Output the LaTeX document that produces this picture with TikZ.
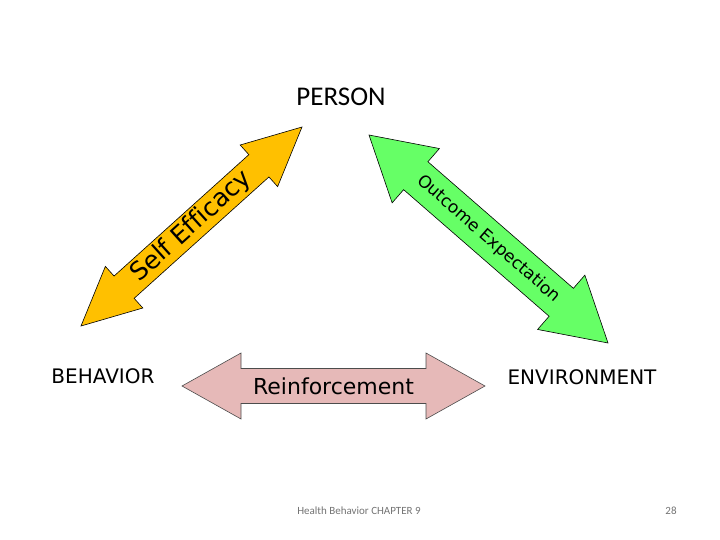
\documentclass[tikz,border=0pt]{standalone}
\usepackage{fontspec}
\setmainfont{DejaVu Sans}
\newfontfamily\slidefont{Carlito}
\usetikzlibrary{calc}
\definecolor{effyellow}{HTML}{FFC000}
\definecolor{outgreen}{HTML}{66FF66}
\definecolor{reinpink}{HTML}{E6B9B8}

% [#1 options] #2,#3 tips, #4 head length, #5 half head width, #6 half shaft width
\newcommand{\twowayarrow}[6][]{%
  \draw[#1] (#2)
    -- ($(#2)!#4!(#3)!#5!90:(#3)$)
    -- ($(#2)!#4!(#3)!#6!90:(#3)$)
    -- ($(#3)!#4!(#2)!#6!-90:(#2)$)
    -- ($(#3)!#4!(#2)!#5!-90:(#2)$)
    -- (#3)
    -- ($(#3)!#4!(#2)!#5!90:(#2)$)
    -- ($(#3)!#4!(#2)!#6!90:(#2)$)
    -- ($(#2)!#4!(#3)!#6!-90:(#3)$)
    -- ($(#2)!#4!(#3)!#5!-90:(#3)$)
    -- cycle;}

\begin{document}
\begin{tikzpicture}[x=1pt, y=-1pt]
\useasboundingbox (0,0) rectangle (720,540);
% corners of the triangle
\node (person) at (341,97) {\slidefont\fontsize{27}{30}\selectfont PERSON};
\node (behavior) at (103,376) {\fontsize{20}{24}\selectfont BEHAVIOR};
\node (environment) at (582,377) {\fontsize{20}{24}\selectfont ENVIRONMENT};
% arrow tips
\coordinate (eff1) at (81,326);
\coordinate (eff2) at (302,127);
\coordinate (out1) at (369,135);
\coordinate (out2) at (608,343);
\coordinate (rein1) at (182,386);
\coordinate (rein2) at (485,386);
\twowayarrow[fill=effyellow, draw=black, line width=0.6pt]{eff1}{eff2}{58pt}{28pt}{15pt}
\twowayarrow[fill=outgreen, draw=black, line width=0.6pt]{out1}{out2}{62pt}{36pt}{18.5pt}
\twowayarrow[fill=reinpink, draw=black!70, line width=0.6pt]{rein1}{rein2}{59pt}{33pt}{17.5pt}
\path (eff1) -- (eff2) node[midway, sloped, font=\fontsize{25}{28}\selectfont] (selfeff) {\addfontfeatures{Ligatures=CommonOff}Self Efficacy};
\path (out1) -- (out2) node[midway, sloped, font=\fontsize{17}{20}\selectfont] (outexp) {Outcome Expectation};
\path (rein1) -- (rein2) node[midway, font=\fontsize{22}{26}\selectfont] (reinf) {Reinforcement};
% footer
\node[text=black!55] (footer) at (359,511) {\slidefont\fontsize{11}{13}\selectfont Health Behavior CHAPTER 9};
\node[text=black!55] (pagenum) at (671,511) {\slidefont\fontsize{11}{13}\selectfont 28};
\end{tikzpicture}
\end{document}
